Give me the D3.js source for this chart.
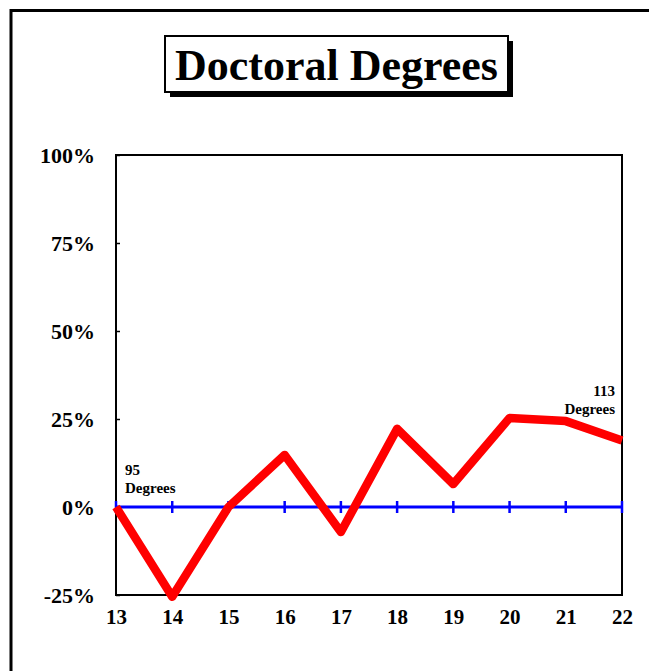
<!DOCTYPE html>
<html><head><meta charset="utf-8">
<script src="https://cdn.jsdelivr.net/npm/d3@7"></script>
<style>html,body{margin:0;padding:0;background:#fff;overflow:hidden}svg{display:block}</style>
</head><body>
<script>
const years = [13,14,15,16,17,18,19,20,21,22];
const pctChange = [0,-25.5,0,14.8,-7.1,22.2,6.5,25.3,24.4,18.9];
const yTicks = [-25,0,25,50,75,100];
const title = "Doctoral Degrees";
const startNote = ["95","Degrees"];
const endNote = ["113","Degrees"];

const W = 649, H = 671;
const svg = d3.select("body").append("svg").attr("width",W).attr("height",H);
const font = "'Liberation Serif','Times New Roman',serif";

// outer frame
svg.append("rect").attr("x",11).attr("y",10.5).attr("width",W+20).attr("height",H+20)
  .attr("fill","none").attr("stroke","#000").attr("stroke-width",3);

// title box
const tb = {x:165,y:36,w:343,h:56};
svg.append("rect").attr("x",tb.x+5).attr("y",tb.y+5).attr("width",tb.w).attr("height",tb.h).attr("fill","#000");
svg.append("rect").attr("x",tb.x).attr("y",tb.y).attr("width",tb.w).attr("height",tb.h)
  .attr("fill","#fff").attr("stroke","#000").attr("stroke-width",2);
svg.append("text").attr("x",tb.x+tb.w/2).attr("y",tb.y+44).attr("text-anchor","middle")
  .attr("font-family",font).attr("font-weight","bold").attr("font-size",44).text(title);

const m = {l:116,r:622,t:155,b:595};
const x = d3.scaleLinear().domain([13,22]).range([m.l,m.r]);
const y = d3.scaleLinear().domain([-25,100]).range([m.b,m.t]);

// plot frame
svg.append("rect").attr("x",m.l).attr("y",m.t).attr("width",m.r-m.l).attr("height",m.b-m.t)
  .attr("fill","none").attr("stroke","#000").attr("stroke-width",2);

// y axis
const yAxis = d3.axisLeft(y).tickValues(yTicks).tickFormat(d=>d+"%").tickSizeInner(-4).tickSizeOuter(0).tickPadding(21);
const ga = svg.append("g").attr("transform",`translate(${m.l},0)`).call(yAxis);
ga.select(".domain").remove();
ga.selectAll("line").attr("stroke","#000").attr("stroke-width",1.5);
ga.selectAll("text").attr("font-family",font).attr("font-weight","bold").attr("font-size",22).attr("fill","#000");

// x axis labels
const xAxis = d3.axisBottom(x).tickValues(years).tickFormat(d3.format("d")).tickSize(0).tickPadding(14);
const gx = svg.append("g").attr("transform",`translate(0,${m.b})`).call(xAxis);
gx.select(".domain").remove();
gx.selectAll("text").attr("font-family",font).attr("font-weight","bold").attr("font-size",21).attr("fill","#000");

// zero line with ticks
svg.append("line").attr("x1",x(13)).attr("x2",x(22)).attr("y1",y(0)).attr("y2",y(0))
  .attr("stroke","#0000ff").attr("stroke-width",3);
svg.append("g").selectAll("line").data(years).join("line")
  .attr("x1",d=>x(d)).attr("x2",d=>x(d)).attr("y1",y(0)-6).attr("y2",y(0)+6)
  .attr("stroke","#0000ff").attr("stroke-width",2.5);

// data line
const line = d3.line().x((d,i)=>x(years[i])).y(d=>y(d));
svg.append("path").datum(pctChange).attr("d",line).attr("fill","none")
  .attr("stroke","#ff0000").attr("stroke-width",8.5).attr("stroke-linejoin","round");

// notes
const n1 = svg.append("text").attr("font-family",font).attr("font-weight","bold").attr("font-size",15);
n1.selectAll("tspan").data(startNote).join("tspan").attr("x",x(13)+9).attr("y",(d,i)=>475+i*18).text(d=>d);
const n2 = svg.append("text").attr("font-family",font).attr("font-weight","bold").attr("font-size",15).attr("text-anchor","end");
n2.selectAll("tspan").data(endNote).join("tspan").attr("x",x(22)-7).attr("y",(d,i)=>396+i*18).text(d=>d);
</script>
</body></html>
